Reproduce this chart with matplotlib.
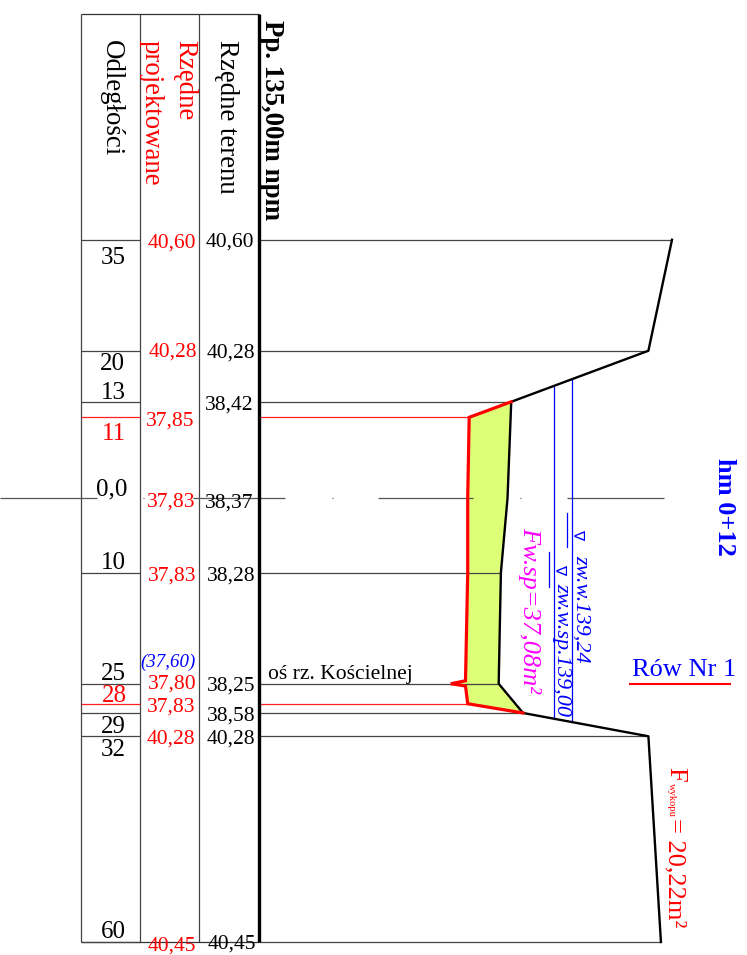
"""Cross-section hm 0+12 of Rów Nr 1, drawn on its side like the survey sheet."""

import matplotlib

matplotlib.use("Agg")
import matplotlib.pyplot as plt

plt.rcParams["font.family"] = ["Liberation Serif", "DejaVu Sans"]

# distance from the axis (m), negative = upper part of the sheet
row_dist = [-34.9, -19.9, -13.0, -10.9, 10.1, 25.1, 27.8, 29.05, 32.2, 60.0]
row_end_elev = [140.60, 140.28, 138.42, 137.85, 138.28, 138.25, 137.83, 138.58, 140.28, 140.45]
row_colors = ["k", "k", "k", "r", "k", "k", "r", "k", "k", "k"]
# terrain profile
terrain_dist = [-34.9, -19.9, -13.0, 0.0, 10.1, 25.1, 29.05, 32.2, 60.0]
terrain_elev = [140.60, 140.28, 138.42, 138.37, 138.28, 138.25, 138.58, 140.28, 140.45]
terrain_text = ["40,60", "40,28", "38,42", "38,37", "38,28", "38,25", "38,58", "40,28", "40,45"]
# design bottom of the ditch
design_dist = [-13.0, -10.9, 0.0, 10.1, 24.7, 25.1, 25.4, 27.8, 29.05]
design_elev = [138.42, 137.85, 137.83, 137.83, 137.80, 137.60, 137.80, 137.83, 138.58]
design_text = ["40,60", "40,28", "37,85", "37,83", "37,83", "37,80", "37,83", "40,28", "40,45"]
distance_text = ["35", "20", "13", "11", "0,0", "10", "25", "28", "29", "32", "60"]
distance_colors = ["k", "k", "k", "r", "k", "k", "k", "r", "k", "k", "k"]
# water levels: elevation and where the line meets the slopes
water_elev = [139.24, 139.00]
water_top = [-16.0, -15.2]
water_bottom = [30.3, 29.8]

# page layout in pixels
W, H = 747, 955
X_DATUM, Y_AXIS = 259, 498
PX_PER_M_X, PX_PER_M_Y = 73.75, 7.4
TABLE_TOP, TABLE_BOTTOM = 14, 942
TABLE_COLS = [81, 140, 199]
distance_pos = [(113, 258), (112, 364), (113, 393), (114, 434), (112, 489), (113, 563),
                (113, 674), (114, 696), (113, 727), (113, 750), (113, 932)]
design_pos = [(172, 243), (173, 352), (170, 421), (171, 502), (172, 576), (172, 684),
              (171, 707), (171, 739), (172, 946)]
terrain_pos = [(230, 242), (231, 353), (229, 405), (229, 503), (231, 576), (231, 686),
               (231, 716), (231, 739), (232, 944)]
axis_segments = [(0, 97), (143, 144), (193, 285), (332, 333), (378, 473), (520, 521), (567, 664)]


def fx(px):
    return 135 + (px - X_DATUM) / PX_PER_M_X


def fy(py):
    return (py - Y_AXIS) / PX_PER_M_Y


def vtext(ax, px, py, s, size=19.4, color="k", **kw):
    """Text reading top to bottom, py is where the text starts."""
    ax.text(fx(px), fy(py), s, rotation=-90, ha="center", va="top", fontsize=size, color=color, **kw)


def htext(ax, px, py, s, size=15.5, color="k", **kw):
    ax.text(fx(px), fy(py), s, ha="center", va="center", fontsize=size, color=color, **kw)


fig = plt.figure(figsize=(W / 100, H / 100), dpi=100)
ax = fig.add_axes([0, 0, 1, 1])
ax.set_xlim(fx(0), fx(W))
ax.set_ylim(fy(H), fy(0))
ax.axis("off")

thin = {"lw": 0.9, "solid_capstyle": "butt", "zorder": 1.5}

# table frame
for px in TABLE_COLS:
    ax.plot([fx(px), fx(px)], [fy(TABLE_TOP), fy(TABLE_BOTTOM)], color="#444444", **thin)
ax.plot([fx(TABLE_COLS[0]), fx(X_DATUM)], [fy(TABLE_TOP), fy(TABLE_TOP)], color="#333333", **thin)
ax.plot([fx(TABLE_COLS[0]), fx(X_DATUM)], [fy(TABLE_BOTTOM), fy(TABLE_BOTTOM)], color="#333333", **thin)

# cross lines in the first column and from the datum to the profile
for d, e, c in zip(row_dist, row_end_elev, row_colors):
    line_color = "#444444" if c == "k" else "#ff2020"
    ax.plot([fx(TABLE_COLS[0]), fx(TABLE_COLS[1])], [d, d], color=line_color, **thin)
    ax.plot([135, e], [d, d], color=line_color, **thin)

# section axis
for x0, x1 in axis_segments:
    ax.plot([fx(x0), fx(x1)], [0, 0], color="#555555", **thin)

# excavation area
ax.fill(design_elev + terrain_elev[2:7][::-1], design_dist + terrain_dist[2:7][::-1],
        color="#ddff77", lw=0, zorder=1)

ax.plot(terrain_elev, terrain_dist, color="k", lw=1.7, zorder=3)
ax.plot(design_elev, design_dist, color="#ff0000", lw=2.3, zorder=4, solid_joinstyle="miter")

# water levels
for e, d0, d1 in zip(water_elev, water_top, water_bottom):
    ax.plot([e, e], [d0, d1], color="#0000ff", lw=0.9, zorder=2)

# datum line
ax.plot([135, 135], [fy(TABLE_TOP), fy(TABLE_BOTTOM)], color="k", lw=2.4, zorder=5,
        solid_capstyle="butt")

# table headers
vtext(ax, 111, 40, "Odległości")
vtext(ax, 185, 40, "Rzędne", color="#ff0000")
vtext(ax, 151, 40, "projektowane", color="#ff0000")
vtext(ax, 227, 40, "Rzędne terenu")
vtext(ax, 271, 20, "Pp. 135,00m npm", fontweight="bold")

# table values
for (px, py), s, c in zip(distance_pos, distance_text, distance_colors):
    htext(ax, px, py, s, size=18, color="#ff0000" if c == "r" else "k")
for (px, py), s in zip(design_pos, design_text):
    htext(ax, px, py, s, color="#ff0000")
for (px, py), s in zip(terrain_pos, terrain_text):
    htext(ax, px, py, s)
htext(ax, 168, 662, "(37,60)", size=13.6, color="#0000ff", style="italic")

# annotations
ax.text(fx(268), fy(684), "oś rz. Kościelnej", fontsize=15.6, ha="left", va="bottom")
vtext(ax, 530, 527, "Fw.sp=37,08m²", size=19, color="#ff00ff", style="italic")
vtext(ax, 725, 458, "hm 0+12", size=19, color="#0000ff", fontweight="bold")
htext(ax, 684, 670, "Rów Nr 1", size=19, color="#0000ff")
ax.plot([fx(629), fx(731)], [fy(684), fy(684)], color="#ff0000", lw=1.5, solid_capstyle="butt")

vtext(ax, 577, 529, "∇", size=11, color="#0000ff")
vtext(ax, 581, 555, "zw.w.139,24", size=16, color="#0000ff", style="italic")
ax.plot([fx(567), fx(567)], [fy(513), fy(547)], color="#0000ff", lw=0.9)
vtext(ax, 559, 564, "∇", size=11, color="#0000ff")
vtext(ax, 562, 583, "zw.w.sp.139,00", size=16, color="#0000ff", style="italic")
ax.plot([fx(549), fx(549)], [fy(552), fy(587)], color="#0000ff", lw=0.9)

vtext(ax, 675, 767, "F", size=19, color="#ff0000")
vtext(ax, 671, 783, "wykopu", size=7.6, color="#ff0000")
vtext(ax, 675, 818, "= 20,22m²", size=19, color="#ff0000")

fig.savefig("out.png", dpi=100)
plt.close(fig)
